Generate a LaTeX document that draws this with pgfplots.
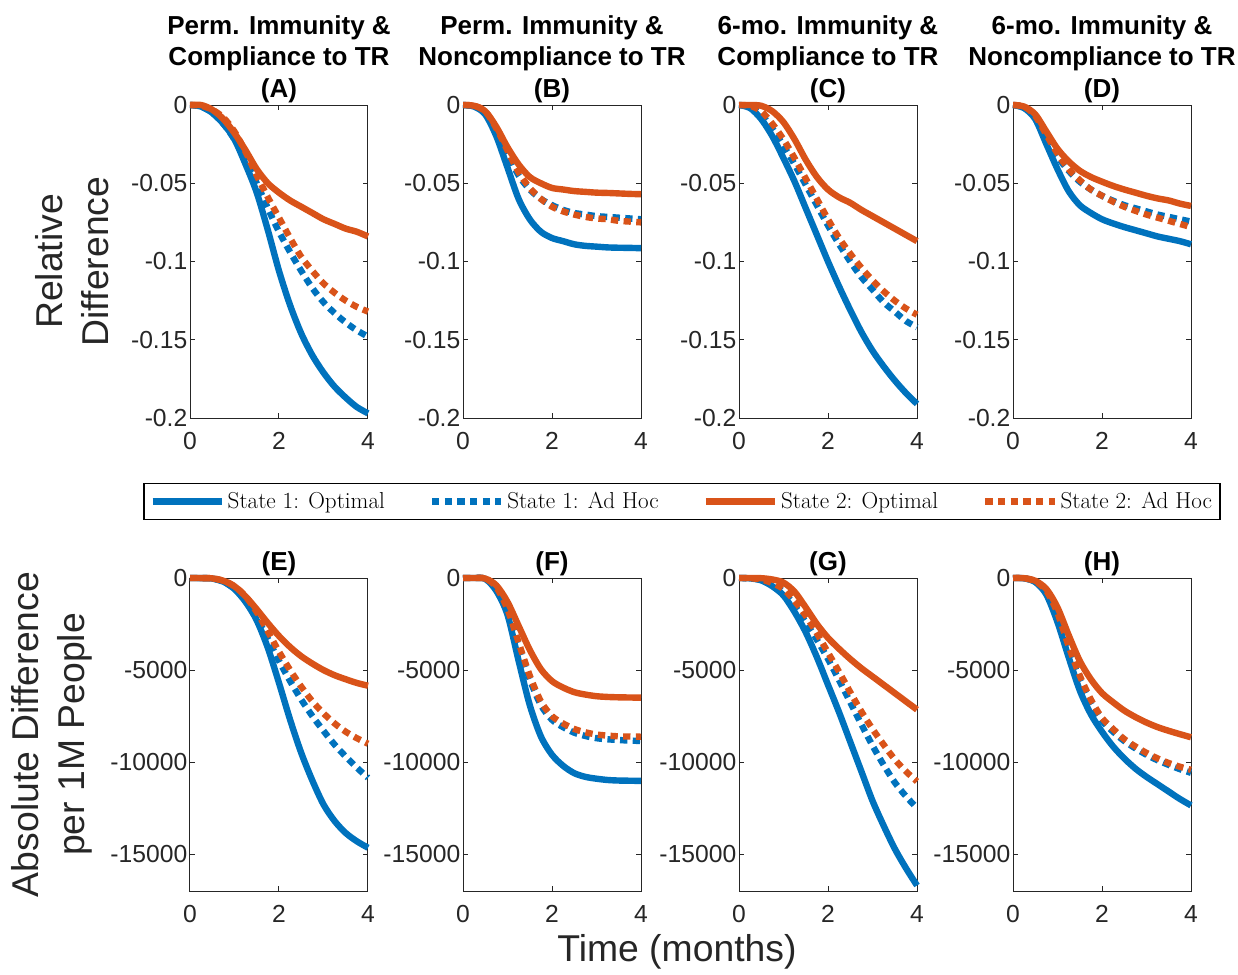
\documentclass[border=0pt]{standalone}
\usepackage{pgfplots}
\pgfplotsset{compat=1.18}
\usepackage{pgfplotstable}
\usepackage{fontspec}
\setsansfont{Liberation Sans}
\definecolor{mblue}{rgb}{0,0.447,0.741}
\definecolor{morange}{rgb}{0.85,0.325,0.098}
\definecolor{axgray}{rgb}{0.15,0.15,0.15}

\pgfplotstableread{
x bo ba oo oa
0 0 0 0 0
0.25 -0.001 -0.001 0 -0.0005
0.5 -0.005 -0.005 -0.003 -0.003
0.75 -0.012 -0.012 -0.009 -0.008
1 -0.022 -0.022 -0.018 -0.017
1.25 -0.038 -0.035 -0.029 -0.030
1.5 -0.056 -0.050 -0.041 -0.045
1.75 -0.080 -0.066 -0.050 -0.059
2 -0.106 -0.081 -0.056 -0.072
2.25 -0.128 -0.094 -0.061 -0.085
2.5 -0.146 -0.106 -0.065 -0.097
2.75 -0.160 -0.117 -0.069 -0.106
3 -0.171 -0.126 -0.073 -0.114
3.25 -0.180 -0.133 -0.076 -0.120
3.5 -0.187 -0.139 -0.079 -0.125
3.75 -0.193 -0.144 -0.081 -0.129
4 -0.197 -0.148 -0.084 -0.132
}\dA
\pgfplotstableread{
x bo ba oo oa
0 0 0 0 0
0.25 -0.001 -0.001 -0.0005 -0.0005
0.5 -0.006 -0.005 -0.004 -0.004
0.75 -0.020 -0.017 -0.014 -0.015
1 -0.040 -0.031 -0.027 -0.029
1.25 -0.060 -0.045 -0.038 -0.043
1.5 -0.073 -0.054 -0.046 -0.053
1.75 -0.081 -0.060 -0.050 -0.060
2 -0.085 -0.064 -0.053 -0.065
2.25 -0.087 -0.067 -0.054 -0.068
2.5 -0.089 -0.069 -0.055 -0.070
2.75 -0.090 -0.070 -0.0555 -0.0715
3 -0.0905 -0.071 -0.056 -0.0725
3.25 -0.091 -0.0715 -0.0562 -0.073
3.5 -0.0912 -0.072 -0.0565 -0.074
3.75 -0.0913 -0.0725 -0.0568 -0.0745
4 -0.0915 -0.073 -0.057 -0.075
}\dB
\pgfplotstableread{
x bo ba oo oa
0 0 0 0 0
0.25 -0.002 -0.001 0 -0.0005
0.5 -0.009 -0.006 -0.0005 -0.004
0.75 -0.020 -0.015 -0.004 -0.012
1 -0.034 -0.026 -0.011 -0.022
1.25 -0.049 -0.038 -0.022 -0.034
1.5 -0.066 -0.051 -0.035 -0.047
1.75 -0.083 -0.064 -0.046 -0.060
2 -0.100 -0.077 -0.054 -0.073
2.25 -0.116 -0.089 -0.059 -0.085
2.5 -0.131 -0.100 -0.0625 -0.095
2.75 -0.145 -0.110 -0.067 -0.104
3 -0.157 -0.118 -0.071 -0.112
3.25 -0.167 -0.126 -0.075 -0.119
3.5 -0.176 -0.132 -0.079 -0.125
3.75 -0.184 -0.138 -0.083 -0.130
4 -0.191 -0.142 -0.087 -0.134
}\dC
\pgfplotstableread{
x bo ba oo oa
0 0 0 0 0
0.25 -0.002 -0.0015 -0.001 -0.001
0.5 -0.009 -0.008 -0.006 -0.007
0.75 -0.025 -0.021 -0.017 -0.019
1 -0.041 -0.033 -0.028 -0.031
1.25 -0.055 -0.042 -0.036 -0.041
1.5 -0.064 -0.049 -0.042 -0.048
1.75 -0.069 -0.054 -0.046 -0.054
2 -0.073 -0.058 -0.049 -0.058
2.25 -0.0757 -0.0612 -0.0517 -0.0618
2.5 -0.078 -0.064 -0.054 -0.065
2.75 -0.080 -0.066 -0.056 -0.0676
3 -0.082 -0.068 -0.058 -0.070
3.25 -0.084 -0.070 -0.0597 -0.072
3.5 -0.0855 -0.0715 -0.061 -0.074
3.75 -0.087 -0.073 -0.063 -0.076
4 -0.089 -0.0745 -0.0645 -0.078
}\dD
\pgfplotstableread{
x bo ba oo oa
0 0 0 0 0
0.25 -5 -5 -3 -3
0.5 -30 -30 -20 -20
0.75 -200 -200 -150 -150
1 -600 -580 -450 -450
1.25 -1300 -1200 -1000 -1000
1.5 -2300 -2150 -1700 -1850
1.75 -3800 -3300 -2450 -2900
2 -5700 -4500 -3150 -4000
2.25 -7700 -5600 -3750 -5000
2.5 -9500 -6600 -4250 -5900
2.75 -11000 -7500 -4650 -6700
3 -12300 -8300 -5000 -7350
3.25 -13200 -9050 -5280 -7900
3.5 -13850 -9700 -5500 -8350
3.75 -14300 -10300 -5700 -8700
4 -14650 -10850 -5850 -9000
}\dE
\pgfplotstableread{
x bo ba oo oa
0 0 0 0 0
0.25 0 0 0 0
0.5 -50 -40 -30 -30
0.75 -700 -550 -400 -500
1 -2000 -1800 -1300 -1700
1.25 -4500 -3700 -2600 -3500
1.5 -6900 -5500 -3900 -5300
1.75 -8600 -6900 -4950 -6700
2 -9600 -7700 -5600 -7500
2.25 -10200 -8100 -5950 -7900
2.5 -10600 -8400 -6200 -8200
2.75 -10800 -8580 -6330 -8380
3 -10900 -8700 -6420 -8500
3.25 -10970 -8760 -6460 -8560
3.5 -11000 -8800 -6480 -8600
3.75 -11010 -8830 -6490 -8610
4 -11020 -8850 -6500 -8620
}\dF
\pgfplotstableread{
x bo ba oo oa
0 0 0 0 0
0.25 -20 -15 0 -10
0.5 -130 -100 -10 -80
0.75 -450 -350 -80 -280
1 -950 -750 -250 -600
1.25 -1850 -1500 -750 -1250
1.5 -2950 -2400 -1600 -2050
1.75 -4300 -3350 -2500 -3000
2 -5800 -4400 -3250 -4050
2.25 -7300 -5550 -3850 -5100
2.5 -8900 -6750 -4400 -6200
2.75 -10500 -7950 -4900 -7250
3 -12100 -9100 -5350 -8200
3.25 -13450 -10150 -5800 -9050
3.5 -14700 -11100 -6250 -9850
3.75 -15750 -11850 -6700 -10500
4 -16700 -12500 -7150 -11050
}\dG
\pgfplotstableread{
x bo ba oo oa
0 0 0 0 0
0.25 -20 -15 -10 -10
0.5 -220 -200 -150 -180
0.75 -900 -800 -600 -700
1 -2400 -2100 -1600 -1900
1.25 -4300 -3900 -3100 -3700
1.5 -6100 -5500 -4500 -5300
1.75 -7400 -6800 -5500 -6600
2 -8350 -7750 -6250 -7600
2.25 -9150 -8350 -6750 -8200
2.5 -9800 -8850 -7200 -8750
2.75 -10350 -9250 -7550 -9150
3 -10800 -9600 -7850 -9500
3.25 -11200 -9900 -8100 -9800
3.5 -11600 -10150 -8300 -10050
3.75 -12000 -10380 -8480 -10250
4 -12350 -10580 -8650 -10420
}\dH

\pgfplotsset{
  panel/.style={scale only axis, width=133.5pt, height=234.75pt,
    anchor=south west, xmin=0, xmax=4, xtick={0,2,4}, xticklabels={0,2,4},
    scaled y ticks=false, scaled x ticks=false,
    axis line style={draw=axgray, line width=0.75pt},
    major tick style={draw=axgray, line width=0.75pt}, major tick length=4pt,
    tick align=inside,
    tick label style={font=\sffamily\fontsize{18.5}{21}\selectfont, text=axgray},
    xticklabel style={yshift=-7pt}, yticklabel style={xshift=1.5pt},
    clip=false,
    title style={at={(axis description cs:0.5,1)}, anchor=south, yshift=-4.5pt, inner sep=0pt,
      align=center, font=\sffamily\bfseries\fontsize{19.5}{23.6}\selectfont},
    ylabel style={at={(axis description cs:-0.663,0.5)}, anchor=center, rotate=0, align=center,
      font=\sffamily\fontsize{28}{34.5}\selectfont, text=axgray},
    xlabel style={font=\sffamily\fontsize{28}{34}\selectfont, text=axgray},
    legend image code/.code={\draw[##1] (0pt,0pt) -- (52pt,0pt);},
  },
  toprow/.style={ymin=-0.2, ymax=0, ytick={-0.2,-0.15,-0.1,-0.05,0},
    yticklabels={-0.2,-0.15,-0.1,-0.05,0}},
  botrow/.style={ymin=-17000, ymax=0, ytick={-15000,-10000,-5000,0},
    yticklabels={-15000,-10000,-5000,0}},
  bsol/.style={mblue, line width=4.8pt, smooth},
  bdot/.style={mblue, line width=4.8pt, smooth, line cap=butt, dash pattern=on 5.5pt off 4pt},
  osol/.style={morange, line width=4.8pt, smooth},
  odot/.style={morange, line width=4.8pt, smooth, line cap=butt, dash pattern=on 5.5pt off 4pt},
}
\newcommand{\fourlines}[1]{%
  \addplot[bsol] table[x=x,y=bo]{#1};
  \addplot[bdot] table[x=x,y=ba]{#1};
  \addplot[osol] table[x=x,y=oo]{#1};
  \addplot[odot] table[x=x,y=oa]{#1};
}

\begin{document}
\begin{tikzpicture}
\useasboundingbox (0,0) rectangle (928.5pt,-730.5pt);
% top row
\begin{axis}[panel, toprow, at={(142.5pt,-313.5pt)},
  title={Perm. Immunity \&\\Compliance to TR\\(A)},
  ylabel={Relative\\Difference},
  legend columns=4, legend cell align=left,
  legend style={at={(axis description cs:2.764,-0.2668)}, anchor=center,
    draw=black, line width=0.8pt, inner xsep=4pt, inner ysep=4.5pt,
    font=\rmfamily\fontsize{17.3}{20}\selectfont,
    /tikz/every even column/.append style={column sep=31pt}}]
\fourlines{\dA}
\legend{State 1: Optimal, State 1: Ad Hoc, State 2: Optimal, State 2: Ad Hoc}
\end{axis}
\begin{axis}[panel, toprow, at={(347.25pt,-313.5pt)},
  title={Perm. Immunity \&\\Noncompliance to TR\\(B)}]
\fourlines{\dB}
\end{axis}
\begin{axis}[panel, toprow, at={(554.25pt,-313.5pt)},
  title={6-mo. Immunity \&\\Compliance to TR\\(C)}]
\fourlines{\dC}
\end{axis}
\begin{axis}[panel, toprow, at={(759.75pt,-313.5pt)},
  title={6-mo. Immunity \&\\Noncompliance to TR\\(D)}]
\fourlines{\dD}
\end{axis}
% bottom row
\begin{axis}[panel, botrow, at={(142.5pt,-668.25pt)}, title={(E)},
  ylabel={Absolute Difference\\per 1M People},
  ylabel style={at={(axis description cs:-0.775,0.5)}}]
\fourlines{\dE}
\end{axis}
\begin{axis}[panel, botrow, at={(347.25pt,-668.25pt)}, title={(F)},
  xlabel={Time (months)},
  xlabel style={at={(axis description cs:1.202,-0.195)}, anchor=center}]
\fourlines{\dF}
\end{axis}
\begin{axis}[panel, botrow, at={(554.25pt,-668.25pt)}, title={(G)}]
\fourlines{\dG}
\end{axis}
\begin{axis}[panel, botrow, at={(759.75pt,-668.25pt)}, title={(H)}]
\fourlines{\dH}
\end{axis}
\end{tikzpicture}
\end{document}
